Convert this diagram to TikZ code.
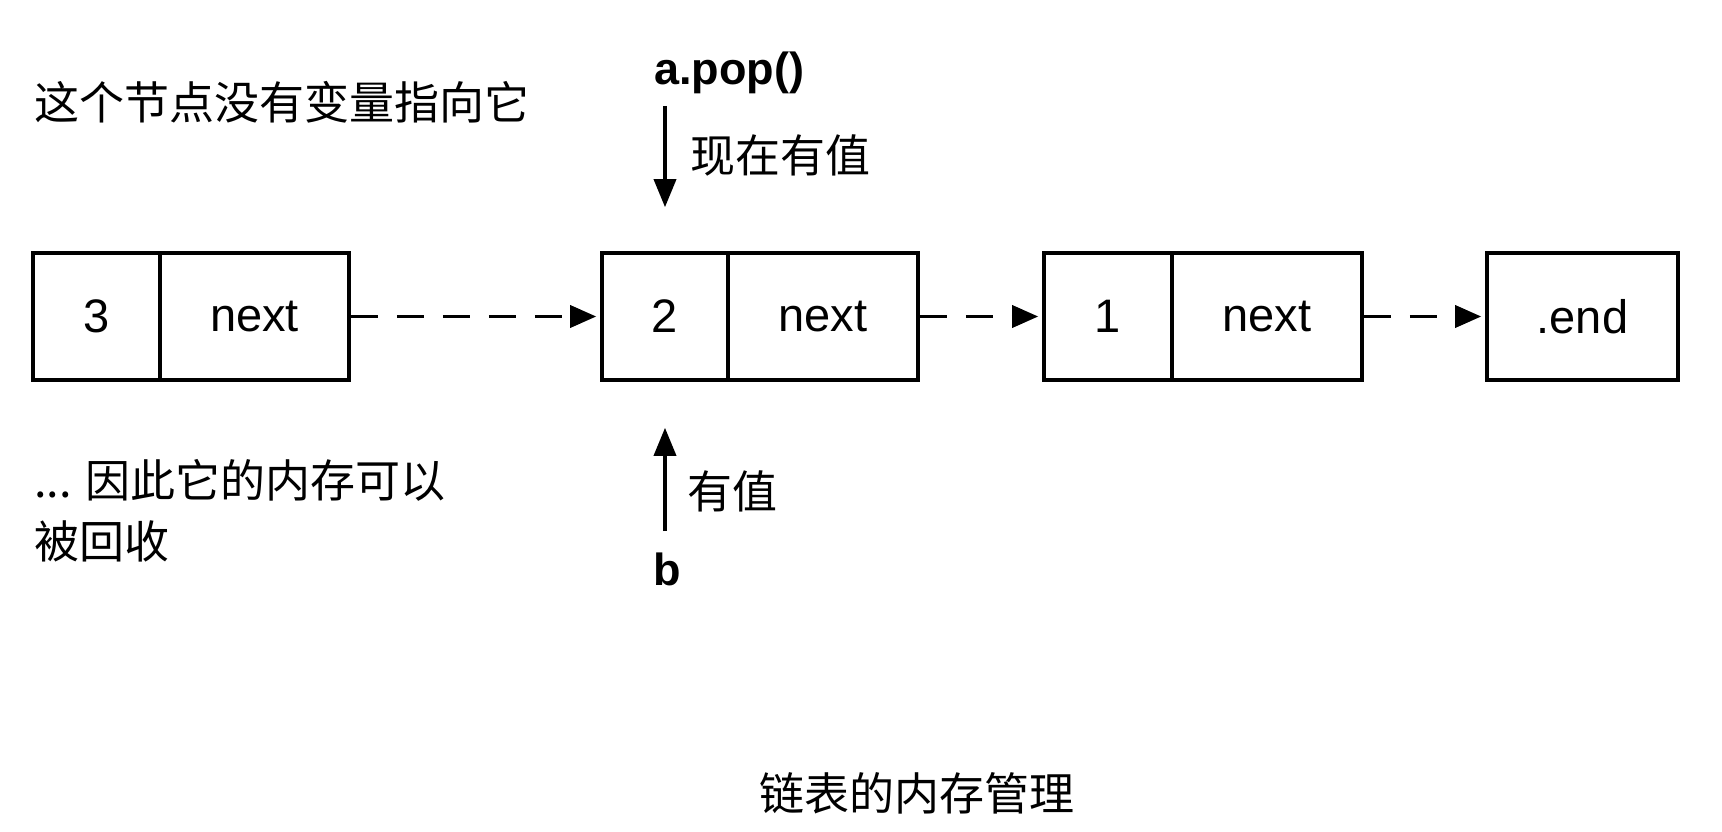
\documentclass[tikz,border=0pt]{standalone}
\usepackage{fontspec}
\setmainfont{Liberation Sans}
\newfontfamily\cjk{Noto Sans CJK SC}
\usetikzlibrary{arrows.meta}
\tikzset{
  cell/.style={draw, line width=3.6pt, minimum height=127pt, inner sep=0pt, font=\fontsize{47}{56}\selectfont},
  dasharr/.style={line width=3.6pt, dash pattern=on 27pt off 19pt, -{Triangle[length=26pt,width=22pt]}, shorten >=4pt},
  solarr/.style={line width=3.6pt, -{Triangle[length=28pt,width=22pt]}},
  lbl/.style={inner sep=0pt, font=\cjk\fontsize{45}{61}\selectfont},
  blbl/.style={inner sep=0pt, font=\bfseries\fontsize{45}{54}\selectfont}
}
\begin{document}
\begin{tikzpicture}[x=1pt,y=-1pt]
\useasboundingbox (0,0) rectangle (1722,832);
% cells
\node[cell, minimum width=127pt] (v3) at (96.5,316.5) {3};
\node[cell, minimum width=189pt] (n3) at (254.5,316.5) {next};
\node[cell, minimum width=126pt] (v2) at (665,316.5) {2};
\node[cell, minimum width=190pt] (n2) at (823,316.5) {next};
\node[cell, minimum width=128pt] (v1) at (1108,316.5) {1};
\node[cell, minimum width=190pt] (n1) at (1267,316.5) {next};
\node[cell, minimum width=191pt] (e) at (1582.5,316.5) {.end};
% dashed links
\draw[dasharr] (n3.east) -- (v2.west);
\draw[dasharr] (n2.east) -- (v1.west);
\draw[dasharr] (n1.east) -- (e.west);
% a.pop()
\node[blbl, anchor=west] (apop) at (654,73) {a.pop()};
\coordinate (dtop) at (665,106);
\draw[solarr, shorten >=44pt] (dtop) -- (v2.north);
\node[lbl, anchor=west] (now) at (690,155) {现在有值};
% b
\node[blbl] (b) at (667,569) {b};
\coordinate (ubot) at (665,531);
\draw[solarr, shorten >=46pt] (ubot) -- (v2.south);
\node[lbl, anchor=west] (has) at (687,491) {有值};
% notes
\node[lbl, anchor=west] (note1) at (34,102) {这个节点没有变量指向它};
\node[lbl, anchor=north west, align=left] (note2) at (34,459) {... 因此它的内存可以\\被回收};
\node[lbl] (title) at (917,793) {链表的内存管理};
\end{tikzpicture}
\end{document}
